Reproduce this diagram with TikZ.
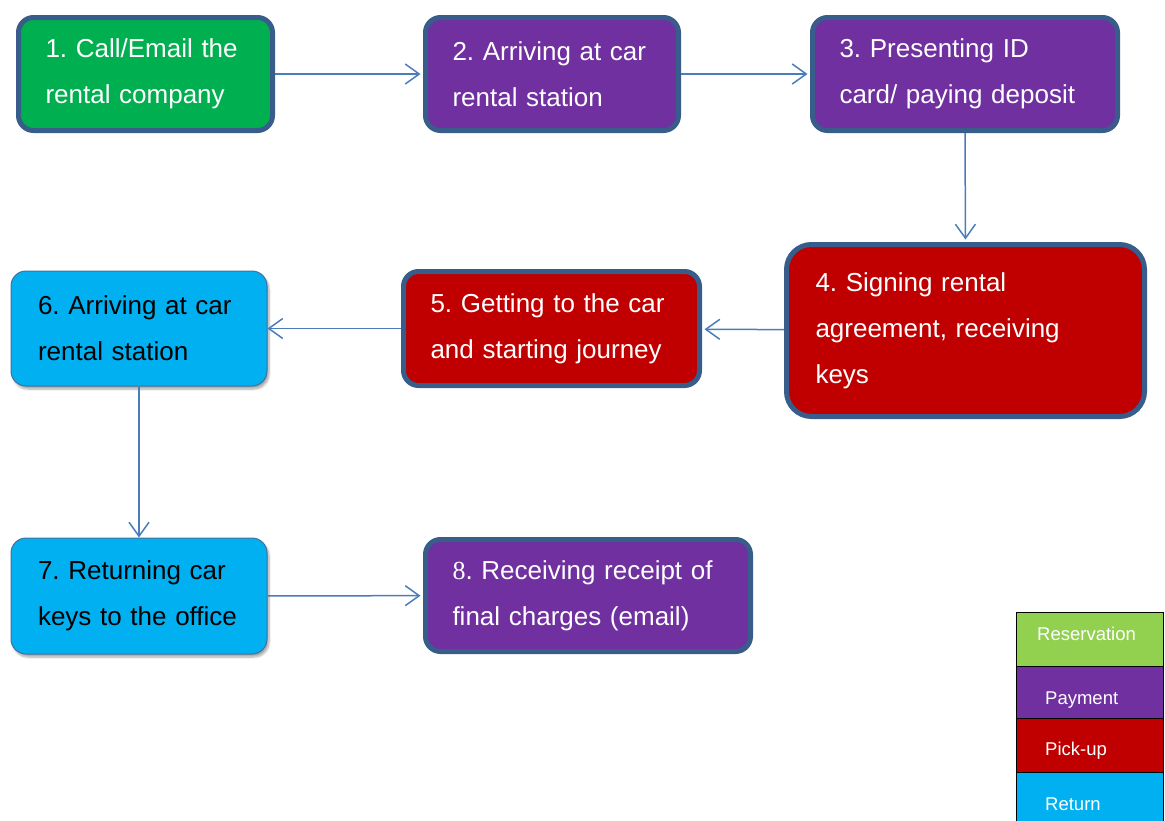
\documentclass[tikz,border=0pt]{standalone}
\usepackage{fontspec}
\setmainfont{Liberation Sans}
\newfontfamily\serifdigit{Liberation Serif}
\usetikzlibrary{arrows.meta,shadows.blur}

\definecolor{resgreen}{RGB}{0,176,80}
\definecolor{legendgreen}{RGB}{146,208,80}
\definecolor{paypurple}{RGB}{112,48,160}
\definecolor{pickred}{RGB}{192,0,0}
\definecolor{retcyan}{RGB}{0,176,240}
\definecolor{boxborder}{RGB}{56,93,138}
\definecolor{thinborder}{RGB}{65,113,156}
\definecolor{linkblue}{RGB}{74,126,187}

\tikzset{
  stepbox/.style={draw=boxborder, line width=5pt, rounded corners=15pt,
    text=white, align=left, inner xsep=27pt, inner ysep=0pt,
    font=\fontsize{26}{46}\selectfont\frenchspacing},
  returnbox/.style={draw=thinborder, line width=1pt, rounded corners=15pt,
    fill=retcyan, text=black, align=left, inner xsep=27pt, inner ysep=0pt,
    font=\fontsize{26}{46}\selectfont\frenchspacing,
    blur shadow={shadow xshift=2pt, shadow yshift=-3pt, shadow opacity=35, shadow blur steps=6}},
  link/.style={draw=linkblue, line width=1.5pt,
    -{Straight Barb[length=14pt, width=20pt, line width=1.5pt]}},
  keycell/.style={draw=black, line width=1pt, minimum width=147pt, inner sep=0pt},
  keytext/.style={text=white, font=\fontsize{18.5}{22}\selectfont, inner sep=0pt, anchor=base west},
}

\begin{document}
\frenchspacing
\begin{tikzpicture}[x=1pt, y=-1pt]
  \useasboundingbox (0,0) rectangle (1165,820);

  % process steps
  \node[stepbox, fill=resgreen, minimum width=254pt, minimum height=113pt, text width=200pt]
    (s1) at (145.5,74) {1. Call/Email the\\rental company};
  \node[stepbox, fill=paypurple, minimum width=253pt, minimum height=113pt, text width=199pt]
    (s2) at (552,74) {2. Arriving at car\\rental station};
  \node[stepbox, fill=paypurple, minimum width=305pt, minimum height=113pt, text width=251pt]
    (s3) at (965,74) {3. Presenting ID\\card/ paying deposit};
  \node[stepbox, fill=pickred, rounded corners=25pt, minimum width=358pt, minimum height=172pt, text width=300pt, inner xsep=29pt]
    (s4) at (965.5,330.5) {4. Signing rental\\agreement, receiving\\keys};
  \node[stepbox, fill=pickred, minimum width=296pt, minimum height=114pt, text width=242pt]
    (s5) at (551.5,328.5) {5. Getting to the car\\and starting journey};
  \node[returnbox, minimum width=256pt, minimum height=115pt, text width=202pt]
    (s6) at (139,328.5) {6. Arriving at car\\rental station};
  \node[returnbox, minimum width=256pt, minimum height=116pt, text width=202pt]
    (s7) at (139,596) {7. Returning car\\keys to the office};
  \node[stepbox, fill=paypurple, minimum width=325pt, minimum height=112pt, text width=271pt]
    (s8) at (588,595.5) {{\serifdigit 8}. Receiving receipt of\\final charges (email)};

  % connectors
  \draw[link, shorten >=2.5pt] (s1) -- (s2);
  \draw[link, shorten >=2.5pt] (s2) -- (s3);
  \draw[link, shorten >=2.5pt] (s3.south) -- (s4.north);
  \draw[link, shorten >=2.5pt] (s4) -- (s5);
  \draw[link] (s5) -- (s6);
  \draw[link] (s6) -- (s7);
  \draw[link, shorten >=2.5pt] (s7) -- (s8);

  % colour key
  \node[keycell, fill=legendgreen, minimum height=54pt] (k1) at (1089.5,639) {};
  \node[keycell, fill=paypurple, minimum height=52pt] (k2) at (1089.5,692) {};
  \node[keycell, fill=pickred, minimum height=54pt] (k3) at (1089.5,745) {};
  \node[keycell, fill=retcyan, minimum height=50pt] (k4) at (1089.5,797) {};
  \node[keytext] (t1) at (1037,640) {Reservation};
  \node[keytext] (t2) at (1045,704) {Payment};
  \node[keytext] (t3) at (1045,755) {Pick-up};
  \node[keytext] (t4) at (1045,810) {Return};
\end{tikzpicture}
\end{document}
